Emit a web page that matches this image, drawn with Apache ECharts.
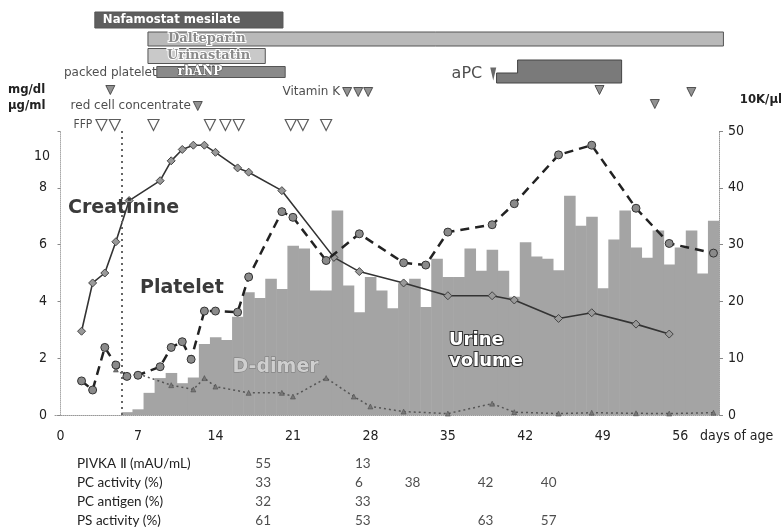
<!DOCTYPE html>
<html>
<head>
<meta charset="utf-8">
<script src="https://cdn.jsdelivr.net/npm/echarts@6/dist/echarts.min.js"></script>
<style>html,body{margin:0;padding:0;background:#fff}#chart{width:782px;height:530px}</style>
</head>
<body>
<div id="chart"></div>
<script>
// ---- data (x = days of age) ----
var xTicks = [0, 7, 14, 21, 28, 35, 42, 49, 56];

var urineDays = [6,7,8,9,10,11,12,13,14,15,16,17,18,19,20,21,22,23,24,25,26,27,28,29,30,31,32,33,34,35,
  36,37,38,39,40,41,42,43,44,45,46,47,48,49,50,51,52,53,54,55,56,57,58,59];
var urineVals = [0.5,1.0,3.9,6.5,7.4,5.6,6.6,12.5,13.7,13.2,17.3,21.6,20.6,24.0,22.2,29.8,29.3,21.9,21.9,36.0,
  22.8,18.1,24.3,21.9,18.8,23.2,24.0,19.0,27.5,24.3,24.3,29.3,25.4,29.1,25.4,20.8,30.4,27.9,27.5,25.5,
  38.6,33.3,34.9,22.3,30.9,36.0,29.5,27.7,32.5,26.5,29.5,32.5,24.9,34.2];

var creatDays = [1.9,2.9,4,5,6.2,9,10,11,12,13,14,16,17,20,24.7,27,31,35,39,41,45,48,52,55];
var creatVals = [2.95,4.65,5.0,6.1,7.55,8.25,8.95,9.35,9.5,9.5,9.25,8.7,8.55,7.9,5.55,5.05,4.65,4.2,4.2,4.05,3.4,3.6,3.2,2.85];

var pltDays = [1.9,2.9,4,5,6,7,9,10,11,11.8,13,14,16,17,20,21,24,27,31,33,35,39,41,45,48,52,55,59];
var pltVals = [6.0,4.4,11.9,8.8,6.8,7.0,8.5,11.9,12.9,9.8,18.3,18.3,18.1,24.3,35.8,34.8,27.2,31.9,26.8,26.4,32.2,33.5,37.2,45.8,47.5,36.4,30.2,28.5];

var ddimDays = [5,6,7,10,12,13,14,17,20,21,24,26.5,28,31,35,39,41,45,48,52,55,59];
var ddimVals = [1.6,1.35,1.45,1.05,0.9,1.3,1.0,0.78,0.78,0.65,1.3,0.65,0.3,0.12,0.05,0.4,0.1,0.05,0.08,0.06,0.05,0.08];

var treatNames = ['Nafamostat mesilate', 'Dalteparin', 'Urinastatin', 'rhANP'];
var treatStart = [3.1, 7.9, 7.9, 8.7];
var treatEnd = [20.1, 59.9, 18.5, 20.3];
var apcStart = [39.4, 41.3]; // low step, high step
var apcEnd = 50.7;
var apcDose = [39.1];

var packedPlateletDays = [4.5];
var redCellDays = [12.4];
var vitKDays = [25.9, 26.9, 27.8];
var lateDoseDays = [48.7, 53.7, 57.0];
var ffpDays = [3.7, 4.9, 8.4, 13.5, 14.9, 16.1, 20.8, 21.9, 24.0];

var tableRows = ['PIVKA Ⅱ (mAU/mL)', 'PC activity (%)', 'PC antigen (%)', 'PS activity (%)'];
var tableCols = [17.6, 26.6, 31.1, 37.7, 43.4];
var pivka = [55, 13, null, null, null];
var pcActivity = [33, 6, 38, 42, 40];
var pcAntigen = [32, 33, null, null, null];
var psActivity = [61, 53, null, 63, 57];

// ---- layout for the treatment strip (pixel rows of the top band) ----
var treatRowY = [20, 39, 56, 72];
var treatRowH = [16, 14, 15, 11];
var treatFill = ['#5e5e5e', '#b9b9b9', '#c9c9c9', '#8a8a8a'];
var treatTextPad = [8, 20, 19, 21];
var treatTextStyle = [
  {fill: '#fff', font: 'bold 13px "Liberation Sans Narrow","DejaVu Sans Condensed",sans-serif'},
  {fill: '#8a8a8a', stroke: '#fff', lineWidth: 2, font: 'bold 13px "DejaVu Serif",serif'},
  {fill: '#8a8a8a', stroke: '#fff', lineWidth: 2, font: 'bold 13px "DejaVu Serif",serif'},
  {fill: '#fff', stroke: '#555', lineWidth: 1, font: 'bold 12px "DejaVu Serif",serif'}
];

function pairs(xs, ys) {
  var out = [];
  for (var i = 0; i < xs.length; i++) out.push([xs[i], ys[i]]);
  return out;
}

var treatData = [];
for (var i = 0; i < treatNames.length; i++) treatData.push([treatStart[i], treatEnd[i], i]);

var tableData = [];
var tableVals = [pivka, pcActivity, pcAntigen, psActivity];
for (var r = 0; r < tableRows.length; r++) {
  for (var c = 0; c < tableCols.length; c++) {
    if (tableVals[r][c] != null) tableData.push([tableCols[c], tableRows[r], String(tableVals[r][c])]);
  }
}

var narrow = '"Liberation Sans Narrow","DejaVu Sans Condensed",sans-serif';

var chart = echarts.init(document.getElementById('chart'));
var option = {
  animation: false,
  grid: [
    {left: 55, right: 63, top: 131, bottom: 115},
    {left: 55, right: 63, top: 0, height: 131},
    {left: 55, right: 63, top: 454, height: 76}
  ],
  xAxis: [
    {
      type: 'value', gridIndex: 0, min: -0.5, max: 59.5,
      axisLine: {lineStyle: {color: '#999', type: 'dotted'}},
      axisTick: {show: false},
      splitLine: {show: false},
      axisLabel: {customValues: xTicks, margin: 14, fontSize: 14, color: '#222', fontFamily: narrow}
    },
    {type: 'value', gridIndex: 1, min: -0.5, max: 59.5, show: false},
    {type: 'value', gridIndex: 2, min: -0.5, max: 59.5, show: false}
  ],
  yAxis: [
    {
      type: 'value', gridIndex: 0, min: 0, max: 10, interval: 2,
      axisLine: {show: true, lineStyle: {color: '#aaa', type: 'dotted'}},
      axisTick: {show: true, length: 3, lineStyle: {color: '#888'}},
      splitLine: {show: false},
      axisLabel: {customValues: [0, 2, 4, 6, 8], margin: 8, fontSize: 14, color: '#222', fontFamily: narrow}
    },
    {
      type: 'value', gridIndex: 0, min: 0, max: 50, interval: 10, position: 'right',
      axisLine: {show: true, lineStyle: {color: '#999', type: 'dotted'}},
      axisTick: {show: true, length: 4, lineStyle: {color: '#888'}},
      splitLine: {show: false},
      axisLabel: {margin: 9, fontSize: 14, color: '#222', fontFamily: narrow}
    },
    {type: 'value', gridIndex: 1, min: 0, max: 131, inverse: true, show: false},
    {
      type: 'category', gridIndex: 2, data: tableRows, inverse: true,
      axisLine: {show: false}, axisTick: {show: false}, splitLine: {show: false},
      axisLabel: {align: 'left', margin: -22, fontSize: 13.5, color: '#222', fontFamily: 'Lato, sans-serif'}
    }
  ],
  series: [
    {
      name: 'Urine volume', type: 'custom', xAxisIndex: 0, yAxisIndex: 1,
      data: pairs(urineDays, urineVals),
      renderItem: function (params, api) {
        var a = api.coord([api.value(0) - 0.5, api.value(1)]);
        var b = api.coord([api.value(0) + 0.5, 0]);
        return {type: 'rect', shape: {x: a[0], y: a[1], width: b[0] - a[0] + 0.5, height: b[1] - a[1]},
          style: {fill: '#a4a4a4'}};
      },
      z: 1
    },
    {
      name: 'D-dimer', type: 'line', xAxisIndex: 0, yAxisIndex: 0,
      data: pairs(ddimDays, ddimVals),
      symbol: 'triangle', symbolSize: 5,
      lineStyle: {color: '#555', width: 1.5, type: [2, 3]},
      itemStyle: {color: '#777', borderColor: '#444', borderWidth: 0.5},
      z: 3
    },
    {
      name: 'Creatinine', type: 'line', xAxisIndex: 0, yAxisIndex: 0,
      data: pairs(creatDays, creatVals),
      symbol: 'diamond', symbolSize: 8,
      lineStyle: {color: '#333', width: 1.6},
      itemStyle: {color: '#999', borderColor: '#444', borderWidth: 1},
      markLine: {
        silent: true, symbol: 'none', label: {show: false},
        lineStyle: {color: '#666', type: [2, 4], width: 2},
        data: [{xAxis: 5.5}]
      },
      z: 4
    },
    {
      name: 'Platelet', type: 'line', xAxisIndex: 0, yAxisIndex: 1,
      data: pairs(pltDays, pltVals),
      symbol: 'circle', symbolSize: 8,
      lineStyle: {color: '#222', width: 2.5, type: [9, 6]},
      itemStyle: {color: '#8a8a8a', borderColor: '#333', borderWidth: 1},
      z: 5
    },
    {
      name: 'treatments', type: 'custom', xAxisIndex: 1, yAxisIndex: 2, clip: false,
      data: treatData,
      renderItem: function (params, api) {
        var k = api.value(2);
        var s = api.coord([api.value(0), treatRowY[k]]);
        var e = api.coord([api.value(1), treatRowY[k]]);
        var h = treatRowH[k];
        var ts = treatTextStyle[k];
        return {type: 'group', children: [
          {type: 'rect', shape: {x: s[0], y: s[1] - h / 2, width: e[0] - s[0], height: h},
            style: {fill: treatFill[k], stroke: '#555', lineWidth: 1}},
          {type: 'text', x: s[0] + treatTextPad[k], y: s[1],
            style: {text: treatNames[k], fill: ts.fill, stroke: ts.stroke, lineWidth: ts.lineWidth,
              font: ts.font, verticalAlign: 'middle', align: 'left'}}
        ]};
      }
    },
    {
      name: 'aPC', type: 'custom', xAxisIndex: 1, yAxisIndex: 2, clip: false,
      data: [[apcStart[0], apcStart[1], apcEnd]],
      renderItem: function (params, api) {
        var p1 = api.coord([api.value(0), 83]);
        var p2 = api.coord([api.value(1), 73]);
        var p3 = api.coord([api.value(2), 60]);
        return {type: 'polygon', shape: {points: [
          [p1[0], p1[1]], [p3[0], p1[1]], [p3[0], p3[1]], [p2[0], p3[1]], [p2[0], p2[1]], [p1[0], p2[1]]
        ]}, style: {fill: '#7a7a7a', stroke: '#444', lineWidth: 1}};
      }
    },
    {
      name: 'aPC dose', type: 'scatter', xAxisIndex: 1, yAxisIndex: 2,
      data: apcDose.map(function (d) { return [d, 74]; }),
      symbol: 'triangle', symbolRotate: 180, symbolSize: [6, 13],
      itemStyle: {color: '#444'},
      label: {show: true, position: 'left', distance: 8, formatter: 'aPC', fontSize: 16, color: '#222',
        fontFamily: '"DejaVu Sans",sans-serif'}
    },
    {
      name: 'doses', type: 'scatter', xAxisIndex: 1, yAxisIndex: 2,
      symbol: 'triangle', symbolRotate: 180, symbolSize: 9,
      itemStyle: {color: '#777', borderColor: '#333', borderWidth: 1},
      label: {fontSize: 12, color: '#222', fontFamily: '"DejaVu Sans",sans-serif'},
      data: [].concat(
        packedPlateletDays.map(function (d, i) {
          return {value: [d, 90], label: {show: i === 0, position: 'top', distance: 6, formatter: 'packed platelet'}};
        }),
        redCellDays.map(function (d, i) {
          return {value: [d, 106], label: {show: i === 0, position: 'left', distance: 2, formatter: 'red cell concentrate'}};
        }),
        vitKDays.map(function (d, i) {
          return {value: [d, 92], label: {show: i === 0, position: 'left', distance: 2, formatter: 'Vitamin K'}};
        }),
        lateDoseDays.map(function (d, i) {
          return {value: [d, [90, 104, 92][i]]};
        })
      )
    },
    {
      name: 'FFP', type: 'scatter', xAxisIndex: 1, yAxisIndex: 2,
      symbol: 'triangle', symbolRotate: 180, symbolSize: 11,
      itemStyle: {color: '#fff', borderColor: '#333', borderWidth: 1.2},
      data: ffpDays.map(function (d, i) {
        return {value: [d, 125], label: {show: i === 0, position: 'left', distance: 3, formatter: 'FFP',
          fontSize: 12, color: '#222', fontFamily: narrow}};
      })
    },
    {
      name: 'table', type: 'scatter', xAxisIndex: 2, yAxisIndex: 3,
      symbolSize: 0, data: tableData,
      label: {show: true, position: 'right', distance: 0, formatter: function (p) { return p.value[2]; },
        fontSize: 13.5, color: '#222', fontFamily: 'Lato, sans-serif'}
    }
  ],
  graphic: [
    {type: 'text', left: 8, top: 83, style: {text: 'mg/dl', font: 'bold 13px ' + narrow, fill: '#222'}},
    {type: 'text', left: 8, top: 99, style: {text: 'μg/ml', font: 'bold 13px ' + narrow, fill: '#222'}},
    {type: 'text', right: 0, top: 93, style: {text: '10K/μl', font: 'bold 13px ' + narrow, fill: '#222'}},
    {type: 'text', left: 34, top: 149, style: {text: '10', font: '14px ' + narrow, fill: '#222'}},
    {type: 'text', left: 700, top: 429, style: {text: 'days of age', font: '14px ' + narrow, fill: '#222'}},
    {type: 'text', left: 68, top: 199, z: 10, style: {text: 'Creatinine', font: 'bold 19px "DejaVu Sans",sans-serif', fill: '#3a3a3a'}},
    {type: 'text', left: 140, top: 279, z: 10, style: {text: 'Platelet', font: 'bold 19px "DejaVu Sans",sans-serif', fill: '#3a3a3a'}},
    {type: 'text', left: 232, top: 357, z: 10, style: {text: 'D-dimer', font: 'bold 19px "DejaVu Sans",sans-serif',
      fill: '#cfcfcf', stroke: '#777', lineWidth: 1}},
    {type: 'text', left: 448, top: 330, z: 10, style: {text: 'Urine\nvolume', font: 'bold 18px "DejaVu Sans",sans-serif',
      fill: '#fff', stroke: '#333', lineWidth: 2, align: 'center', lineHeight: 21, x: 42}}
  ]
};
chart.setOption(option);
</script>
</body>
</html>
